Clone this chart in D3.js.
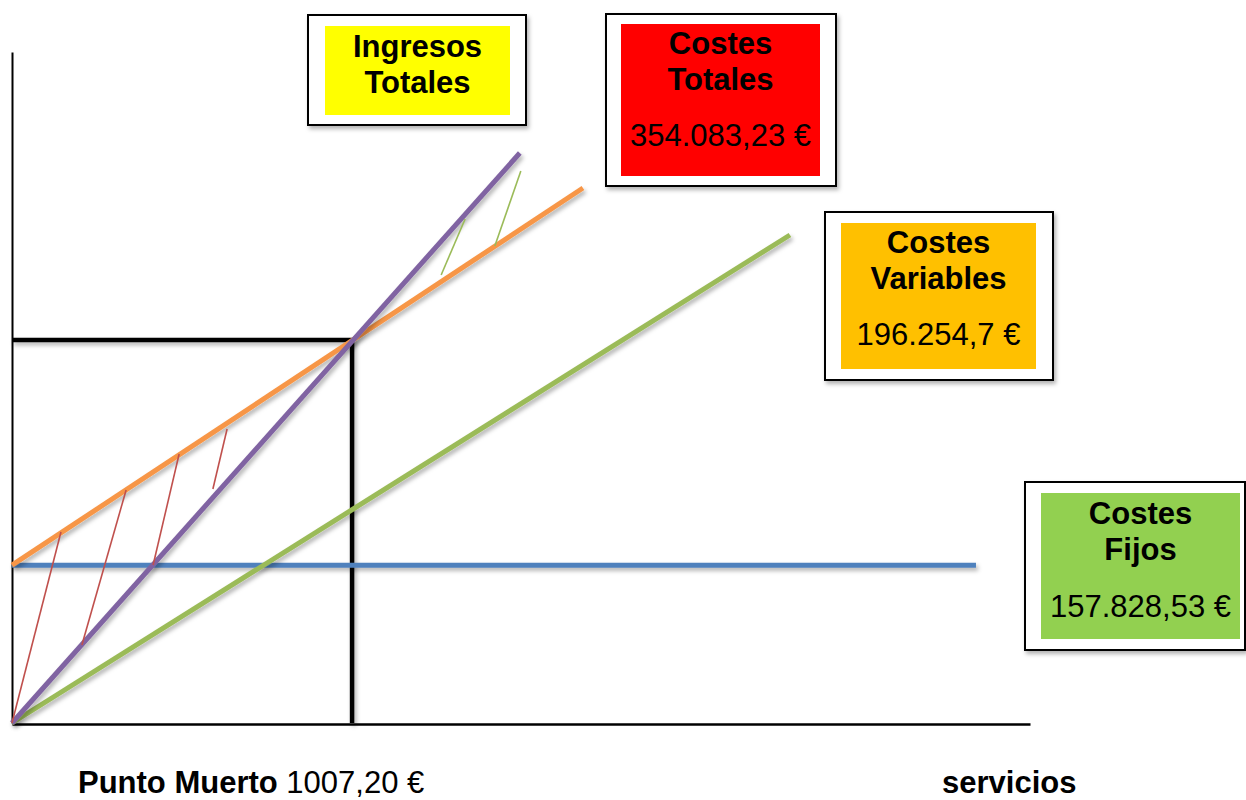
<!DOCTYPE html>
<html>
<head>
<meta charset="utf-8">
<script src="https://cdn.jsdelivr.net/npm/d3@7"></script>
<style>
  body { margin: 0; background: #fff; }
  svg { display: block; font-family: "Liberation Sans", Arial, sans-serif; }
</style>
</head>
<body>
<svg id="chart" width="1246" height="800"></svg>
<script>
// values (x = servicios, y = €)
const breakEvenUnits = 1007.2;
const breakEvenValue = 383000;
const fixedCost = 157828.53;

const fixedCostLine = [[0, fixedCost], [2855, fixedCost]];
const variableCostLine = [[0, 0], [2304, 488000]];
const totalCostLine = [[0, fixedCost], [1691, 535000]];
const revenueLine = [[0, 0], [1504, 570000]];
const breakEvenLine = [[0, breakEvenValue], [breakEvenUnits, breakEvenValue], [breakEvenUnits, 0]];

// hatch strokes: loss area (red) and profit area (green)
const lossHatch = [
  [[0, 0], [145, 191000]],
  [[207, 78000], [338, 233000]],
  [[418, 158000], [495, 269000]],
  [[595, 234000], [637, 294000]]
];
const profitHatch = [
  [[1271, 448000], [1342, 504000]],
  [[1430, 477000], [1507, 552000]]
];

const labelTitles = [["Ingresos", "Totales"], ["Costes", "Totales"], ["Costes", "Variables"], ["Costes", "Fijos"]];
const labelValues = [null, "354.083,23 €", "196.254,7 €", "157.828,53 €"];

const svg = d3.select("#chart");

const x = d3.scaleLinear().domain([0, 3015]).range([12, 1030]);
const y = d3.scaleLinear().domain([0, 671000]).range([723, 52]);

// soft shadow like the original drawing (user space so flat lines keep it)
const defs = svg.append("defs");
defs.append("filter")
  .attr("id", "shadow")
  .attr("filterUnits", "userSpaceOnUse")
  .attr("x", 0).attr("y", 0)
  .attr("width", 1246).attr("height", 800)
  .append("feDropShadow")
  .attr("dx", 2).attr("dy", 3)
  .attr("stdDeviation", 2)
  .attr("flood-color", "#000")
  .attr("flood-opacity", 0.3);

// axes, no ticks
svg.append("g")
  .attr("transform", `translate(0,${y(0) + 1})`)
  .call(d3.axisBottom(x).tickValues([]).tickSizeOuter(0))
  .select(".domain").attr("stroke", "#000").attr("stroke-width", 2.5);

svg.append("g")
  .attr("transform", `translate(${x(0)},0)`)
  .call(d3.axisLeft(y).tickValues([]).tickSizeOuter(0))
  .select(".domain").attr("stroke", "#000").attr("stroke-width", 2);

const line = d3.line().x(d => x(d[0])).y(d => y(d[1]));

const g = svg.append("g");

g.append("path").datum(breakEvenLine)
  .attr("d", line).attr("fill", "none")
  .attr("stroke", "#000").attr("stroke-width", 4.5)
  .attr("filter", "url(#shadow)");

const series = [
  { data: fixedCostLine, color: "#4F81BD" },
  { data: variableCostLine, color: "#9BBB59" },
  { data: totalCostLine, color: "#F79646" },
  { data: revenueLine, color: "#8064A2" }
];

g.selectAll(".serie")
  .data(series)
  .enter()
  .append("path")
  .attr("class", "serie")
  .attr("d", d => line(d.data))
  .attr("fill", "none")
  .attr("stroke", d => d.color)
  .attr("stroke-width", 5)
  .attr("filter", "url(#shadow)");

g.selectAll(".loss")
  .data(lossHatch)
  .enter()
  .append("path")
  .attr("class", "loss")
  .attr("d", line)
  .attr("stroke", "#C0504D")
  .attr("stroke-width", 1.6);

g.selectAll(".profit")
  .data(profitHatch)
  .enter()
  .append("path")
  .attr("class", "profit")
  .attr("d", line)
  .attr("stroke", "#9BBB59")
  .attr("stroke-width", 1.6);

// label boxes
const boxes = [
  { outer: [308, 15, 218, 110], inner: [325, 26, 185, 89], fill: "#FFFF00", lines: [57, 93] },
  { outer: [606, 14, 230, 172], inner: [621, 24, 199, 152], fill: "#FF0000", lines: [54, 90, 146] },
  { outer: [825, 212, 228, 168], inner: [841, 223, 195, 146], fill: "#FFC000", lines: [253, 289, 345] },
  { outer: [1025, 482, 220, 168], inner: [1041, 493, 199, 146], fill: "#92D050", lines: [524, 560, 617] }
];

const box = svg.selectAll(".box")
  .data(boxes)
  .enter()
  .append("g")
  .attr("class", "box");

box.append("rect")
  .attr("x", d => d.outer[0]).attr("y", d => d.outer[1])
  .attr("width", d => d.outer[2]).attr("height", d => d.outer[3])
  .attr("fill", "#fff").attr("stroke", "#000").attr("stroke-width", 2)
  .attr("filter", "url(#shadow)");

box.append("rect")
  .attr("x", d => d.inner[0]).attr("y", d => d.inner[1])
  .attr("width", d => d.inner[2]).attr("height", d => d.inner[3])
  .attr("fill", d => d.fill);

box.each(function(d, i) {
  const cx = d.inner[0] + d.inner[2] / 2;
  const sel = d3.select(this);
  labelTitles[i].forEach((t, k) => {
    sel.append("text")
      .attr("x", cx).attr("y", d.lines[k])
      .attr("text-anchor", "middle")
      .attr("font-size", 31).attr("font-weight", "bold")
      .text(t);
  });
  if (labelValues[i]) {
    sel.append("text")
      .attr("x", cx).attr("y", d.lines[2])
      .attr("text-anchor", "middle")
      .attr("font-size", 31)
      .text(labelValues[i]);
  }
});

// bottom captions
const pm = svg.append("text")
  .attr("x", 78).attr("y", 793)
  .attr("font-size", 31);
pm.append("tspan").attr("font-weight", "bold").text("Punto Muerto");
pm.append("tspan").text(" 1007,20 €");

svg.append("text")
  .attr("x", 942).attr("y", 793)
  .attr("font-size", 31).attr("font-weight", "bold")
  .text("servicios");
</script>
</body>
</html>
